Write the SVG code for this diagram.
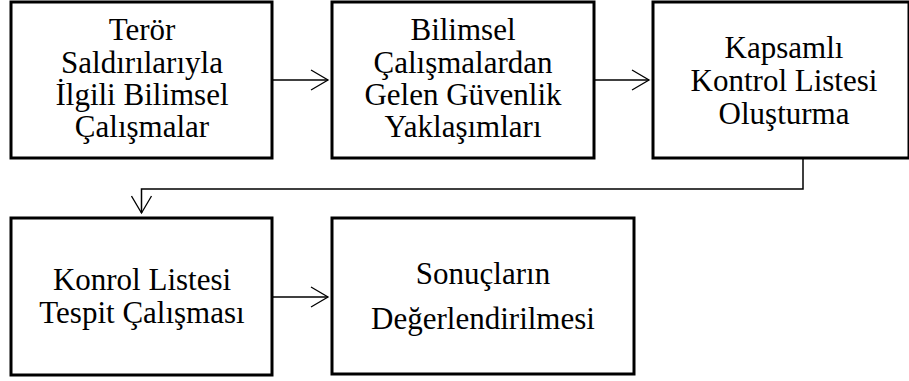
<svg xmlns="http://www.w3.org/2000/svg" width="909" height="381" viewBox="0 0 909 381">
<style>
.box{fill:#fff;stroke:#000;stroke-width:3}
.t{font-size:31px;fill:#000;text-anchor:middle}
.c{fill:none;stroke:#000;stroke-width:1.5}
</style>
<defs>
<marker id="arr" markerWidth="20" markerHeight="22" refX="18" refY="11" orient="auto" markerUnits="userSpaceOnUse">
<path d="M1,1 L18,11 L1,21" fill="none" stroke="#000" stroke-width="1.3"/>
</marker>
</defs>
<rect width="909" height="381" fill="#fff"/>
<g id="connectors">
<line class="c" x1="272" y1="80" x2="328" y2="80" marker-end="url(#arr)"/>
<line class="c" x1="594" y1="80" x2="649" y2="80" marker-end="url(#arr)"/>
<polyline class="c" points="803,158 803,189 141.5,189 141.5,213" marker-end="url(#arr)"/>
<line class="c" x1="272" y1="297" x2="328" y2="297" marker-end="url(#arr)"/>
</g>
<g font-family="Liberation Serif, Times New Roman, serif">
<g id="n1">
<rect class="box" x="11" y="2" width="261" height="156"/>
<text class="t" x="142" y="40">Terör</text>
<text class="t" x="142" y="72.5">Saldırılarıyla</text>
<text class="t" x="142" y="105">İlgili Bilimsel</text>
<text class="t" x="142" y="137">Çalışmalar</text>
</g>
<g id="n2">
<rect class="box" x="332" y="2" width="262" height="156"/>
<text class="t" x="463" y="40">Bilimsel</text>
<text class="t" x="463" y="72.5">Çalışmalardan</text>
<text class="t" x="463" y="105">Gelen Güvenlik</text>
<text class="t" x="463" y="137">Yaklaşımları</text>
</g>
<g id="n3">
<rect class="box" x="653" y="2" width="256" height="156"/>
<text class="t" x="784" y="58">Kapsamlı</text>
<text class="t" x="784" y="91">Kontrol Listesi</text>
<text class="t" x="784" y="123.5">Oluşturma</text>
</g>
<g id="n4">
<rect class="box" x="11" y="218" width="261" height="157"/>
<text class="t" x="142" y="290">Konrol Listesi</text>
<text class="t" x="142" y="323">Tespit Çalışması</text>
</g>
<g id="n5">
<rect class="box" x="332" y="218" width="302" height="156"/>
<text class="t" x="483" y="284">Sonuçların</text>
<text class="t" x="483" y="329">Değerlendirilmesi</text>
</g>
</g>
</svg>
